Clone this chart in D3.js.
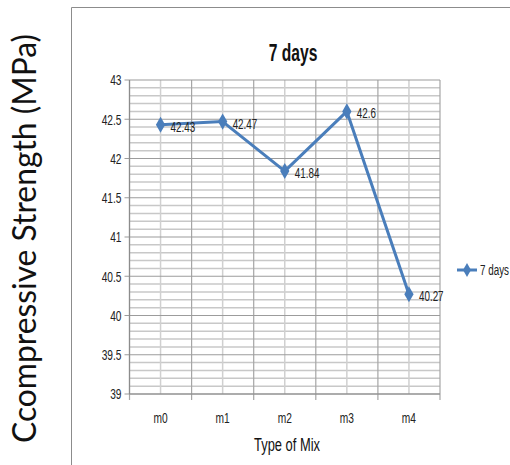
<!DOCTYPE html>
<html><head><meta charset="utf-8">
<script src="https://cdn.jsdelivr.net/npm/d3@7"></script>
<style>
body{margin:0;background:#fff;}
svg{display:block;}
</style></head>
<body><svg id="c" width="510" height="465"></svg>
<script>
const categories = ["m0","m1","m2","m3","m4"];
const values = [42.43, 42.47, 41.84, 42.6, 40.27];
const yTicks = [39, 39.5, 40, 40.5, 41, 41.5, 42, 42.5, 43];
const seriesName = "7 days";
const title = "7 days";
const xTitle = "Type of Mix";
const yTitle = "Ccompressive Strength (MPa)";

const svg = d3.select("#c");
const L = 129.5, R = 440, T = 80, B = 394;
const SX = 0.68;
const x = d3.scaleBand().domain(categories).range([L, R]);
const y = d3.scaleLinear().domain([39, 43]).range([B, T]);

function ntext(parent, px, py, str, size, anchor, weight, fill) {
  return parent.append("text")
    .attr("transform", `translate(${px},${py}) scale(${SX},1)`)
    .attr("dy", "0.35em")
    .attr("text-anchor", anchor || "start")
    .style("font-family", "'Liberation Sans',Arial,sans-serif")
    .attr("font-size", size)
    .attr("font-weight", weight || "normal")
    .attr("fill", fill || "#222")
    .text(str);
}

// outer frame
svg.append("path").attr("d", "M71.5,465 V7.5 H510").attr("fill","none").attr("stroke","#8c8c8c").attr("stroke-width",1);

// minor horizontal grid (every 0.1)
const minor = d3.range(390, 431).map(d => d/10).filter(v => Math.abs(v*2 - Math.round(v*2)) > 1e-6);
svg.append("g").selectAll("line").data(minor).join("line")
  .attr("x1", L).attr("x2", R).attr("y1", d => y(d)).attr("y2", d => y(d))
  .attr("stroke", "#c8c8c8").attr("stroke-width", 1.5);
// vertical grid at category centers
svg.append("g").selectAll("line").data(categories).join("line")
  .attr("x1", d => x(d)+x.bandwidth()/2).attr("x2", d => x(d)+x.bandwidth()/2).attr("y1", T).attr("y2", B)
  .attr("stroke", "#d0d0d0").attr("stroke-width", 1.5);
// vertical grid at band boundaries
const bounds = categories.map(d => x(d)).concat([R]);
svg.append("g").selectAll("line").data(bounds).join("line")
  .attr("x1", d => d).attr("x2", d => d).attr("y1", T).attr("y2", B + 6)
  .attr("stroke", "#a6a6a6").attr("stroke-width", 1.2);
// major horizontal grid
svg.append("g").selectAll("line").data(yTicks).join("line")
  .attr("x1", L - 5).attr("x2", R).attr("y1", d => y(d)).attr("y2", d => y(d))
  .attr("stroke", "#9c9c9c").attr("stroke-width", 1.2);
// axis lines
svg.append("line").attr("x1", L).attr("x2", L).attr("y1", T).attr("y2", B).attr("stroke","#8c8c8c").attr("stroke-width",1.2);
svg.append("line").attr("x1", L).attr("x2", R).attr("y1", B).attr("y2", B).attr("stroke","#8c8c8c").attr("stroke-width",1.2);

// y tick labels
const gy = svg.append("g");
yTicks.forEach(t => ntext(gy, L - 8, y(t), t, 15, "end"));
// x tick labels
const gx = svg.append("g");
categories.forEach(c => ntext(gx, x(c)+x.bandwidth()/2, 418, c, 15, "middle"));

// line + markers
const cx = d => x(d)+x.bandwidth()/2;
const pts = categories.map((c,i) => [cx(c), y(values[i])]);
svg.append("path").attr("d", d3.line()(pts)).attr("fill","none").attr("stroke","#4a7ebb").attr("stroke-width",3).attr("stroke-linejoin","round");
const diamond = d3.symbol().type(d3.symbolDiamond).size(75);
svg.append("g").selectAll("path").data(pts).join("path")
  .attr("transform", d => `translate(${d[0]},${d[1]})`).attr("d", diamond).attr("fill","#4a7ebb");
// data labels
const gl = svg.append("g");
pts.forEach((p,i) => ntext(gl, p[0] + 10, p[1] + 2, values[i], 14.5, "start"));

// title
ntext(svg, 293, 53, title, 23, "middle", "bold", "#111");
// x title
ntext(svg, 287, 444, xTitle, 19, "middle", "normal", "#111");
// y title
svg.append("text").attr("transform","translate(36,238.5) rotate(-90)").attr("text-anchor","middle")
  .style("font-family","Lato,'Open Sans',sans-serif").attr("font-size", 32)
  .attr("textLength", 409).attr("lengthAdjust","spacingAndGlyphs")
  .attr("fill","#111").text(yTitle);

// legend
svg.append("line").attr("x1",457).attr("x2",477).attr("y1",270).attr("y2",270).attr("stroke","#4a7ebb").attr("stroke-width",3);
svg.append("path").attr("transform","translate(467,270)").attr("d", d3.symbol().type(d3.symbolDiamond).size(55)).attr("fill","#4a7ebb");
ntext(svg, 480, 270, seriesName, 14.5, "start");
</script></body></html>
